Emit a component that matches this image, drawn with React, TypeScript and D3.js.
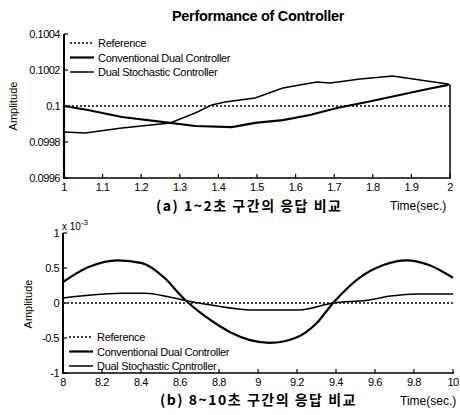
import React from "react";
import * as d3 from "d3";

// (a) 1~2 sec
const timeA = [1, 1, 1.062, 1.15, 1.275, 1.34, 1.435, 1.495, 1.567, 1.637, 1.707, 1.785, 1.87, 1.93, 1.995];
const convA = [0.0996, 0.1, 0.099978, 0.099939, 0.099906, 0.099889, 0.099883, 0.099906, 0.099922, 0.09995, 0.099989, 0.100022, 0.100061, 0.100089, 0.100117];
const timeA2 = [1, 1.055, 1.15, 1.275, 1.34, 1.383, 1.417, 1.495, 1.567, 1.655, 1.69, 1.767, 1.852, 1.94, 1.995, 2, 2];
const stochA = [0.099856, 0.09985, 0.099878, 0.099906, 0.099961, 0.100006, 0.100022, 0.100044, 0.1001, 0.100133, 0.100128, 0.10015, 0.100167, 0.100139, 0.100122, 0.100115, 0.0996];
const yTicksA = [0.0996, 0.0998, 0.1, 0.1002, 0.1004];
const yLabelsA = ["0.0996", "0.0998", "0.1", "0.1002", "0.1004"];
const xTicksA = [1, 1.1, 1.2, 1.3, 1.4, 1.5, 1.6, 1.7, 1.8, 1.9, 2];

// (b) 8~10 sec, values x 10^-3
const timeB = [8, 8.128, 8.28, 8.405, 8.52, 8.61, 8.64, 8.76, 8.86, 8.96, 9.06, 9.2, 9.3, 9.385, 9.52, 9.64, 9.76, 9.88, 10];
const convB = [0.3, 0.51, 0.61, 0.57, 0.36, 0.09, 0.01, -0.25, -0.42, -0.53, -0.57, -0.49, -0.29, 0.0, 0.36, 0.54, 0.61, 0.54, 0.36];
const timeB2 = [8, 8.13, 8.3, 8.42, 8.54, 8.64, 8.76, 8.97, 9.21, 9.385, 9.56, 9.68, 9.82, 10];
const stochB = [0.07, 0.11, 0.14, 0.14, 0.09, 0.03, -0.03, -0.1, -0.1, 0, 0.04, 0.1, 0.13, 0.13];
const yTicksB = [-1, -0.5, 0, 0.5, 1];
const xTicksB = [8, 8.2, 8.4, 8.6, 8.8, 9, 9.2, 9.4, 9.6, 9.8, 10];

const legendNames = ["Reference", "Conventional Dual Controller", "Dual Stochastic Controller"];

const font = "'Liberation Sans', Arial, sans-serif";
const krFont = "'Noto Sans CJK KR', sans-serif";

type PanelProps = {
  left: number; right: number; top: number; bottom: number;
  xDomain: [number, number]; yDomain: [number, number];
  xTicks: number[]; yTicks: number[]; yLabels: string[];
  conv: [number, number][]; stoch: [number, number][];
  refValue: number; legendY: number; smooth: boolean;
};

function Panel(p: PanelProps) {
  const x = d3.scaleLinear().domain(p.xDomain).range([p.left, p.right]);
  const y = d3.scaleLinear().domain(p.yDomain).range([p.bottom, p.top]);
  const line = d3.line<[number, number]>()
    .x((d) => x(d[0]))
    .y((d) => y(d[1]))
    .curve(p.smooth ? d3.curveMonotoneX : d3.curveLinear);
  return (
    <g fontFamily={font}>
      {/* reference */}
      <line x1={x(p.xDomain[0])} x2={x(p.xDomain[1])} y1={y(p.refValue)} y2={y(p.refValue)}
        stroke="#000" strokeWidth={1.3} strokeDasharray="2,2" />
      <path d={line(p.stoch) || ""} fill="none" stroke="#000" strokeWidth={1.5} />
      <path d={line(p.conv) || ""} fill="none" stroke="#000" strokeWidth={2.2} />
      {/* axes */}
      <line x1={p.left} x2={p.left} y1={p.top} y2={p.bottom + 1} stroke="#000" strokeWidth={2} />
      <line x1={p.left} x2={p.right + 1} y1={p.bottom} y2={p.bottom} stroke="#000" strokeWidth={1.5} />
      {p.yTicks.map((t, i) => (
        <g key={"y" + i}>
          <line x1={p.left} x2={p.left + 4} y1={y(t)} y2={y(t)} stroke="#000" strokeWidth={1.2} />
          <text x={p.left - 4} y={y(t) + 4} fontSize={11} textAnchor="end" letterSpacing={-0.5}>{p.yLabels[i]}</text>
        </g>
      ))}
      {p.xTicks.map((t, i) => (
        <g key={"x" + i}>
          <line x1={x(t)} x2={x(t)} y1={p.bottom} y2={p.bottom - 4} stroke="#000" strokeWidth={1.2} />
          <text x={x(t)} y={p.bottom + 13} fontSize={11} textAnchor="middle" letterSpacing={-0.5}>{String(t)}</text>
        </g>
      ))}
      {/* legend */}
      {legendNames.map((n, i) => (
        <g key={n}>
          <line x1={p.left + 6} x2={p.left + 30} y1={p.legendY + i * 14.5} y2={p.legendY + i * 14.5}
            stroke="#000" strokeWidth={i === 0 ? 1.3 : i === 1 ? 2.2 : 1.5}
            strokeDasharray={i === 0 ? "2,2" : undefined} />
          <text x={p.left + 34} y={p.legendY + i * 14.5 + 4} fontSize={11} letterSpacing={-0.3}>{n}</text>
        </g>
      ))}
    </g>
  );
}

export default function App() {
  const convAData = timeA.map((t, i) => [t, convA[i]] as [number, number]);
  const stochAData = timeA2.map((t, i) => [t, stochA[i]] as [number, number]);
  const convBData = timeB.map((t, i) => [t, convB[i]] as [number, number]);
  const stochBData = timeB2.map((t, i) => [t, stochB[i]] as [number, number]);
  return (
    <svg width={460} height={415} style={{ position: "absolute", left: 0, top: 0, background: "#fff" }}>
      <rect width={460} height={415} fill="#fff" />
      <text x={258} y={21} fontSize={14.5} fontWeight="bold" textAnchor="middle" letterSpacing={-0.3} fontFamily={font}>Performance of Controller</text>
      <text transform="translate(17,106) rotate(-90)" fontSize={11} textAnchor="middle" fontFamily={font}>Amplitude</text>
      <Panel left={64} right={450} top={34} bottom={178} xDomain={[1, 2]} yDomain={[0.0996, 0.1004]}
        xTicks={xTicksA} yTicks={yTicksA} yLabels={yLabelsA} conv={convAData} stoch={stochAData}
        refValue={0.1} legendY={43} smooth={false} />
      <text x={156} y={211} fontSize={14} fontWeight="bold" letterSpacing={1.5} fontFamily={krFont}>(a) 1~2초 구간의 응답 비교</text>
      <text x={390} y={210} fontSize={12} fontFamily={font}>Time(sec.)</text>

      <text x={62} y={230} fontSize={10} fontFamily={font}>x 10<tspan dy={-5} fontSize={8}>-3</tspan></text>
      <text transform="translate(32,304) rotate(-90)" fontSize={11} textAnchor="middle" fontFamily={font}>Amplitude</text>
      <Panel left={63} right={453} top={233} bottom={373} xDomain={[8, 10]} yDomain={[-1, 1]}
        xTicks={xTicksB} yTicks={yTicksB} yLabels={yTicksB.map(String)} conv={convBData} stoch={stochBData}
        refValue={0} legendY={337} smooth={true} />
      <text x={160} y={405} fontSize={14} fontWeight="bold" letterSpacing={1.5} fontFamily={krFont}>(b) 8~10초 구간의 응답 비교</text>
      <text x={400} y={405} fontSize={12} fontFamily={font}>Time(sec.)</text>
    </svg>
  );
}
